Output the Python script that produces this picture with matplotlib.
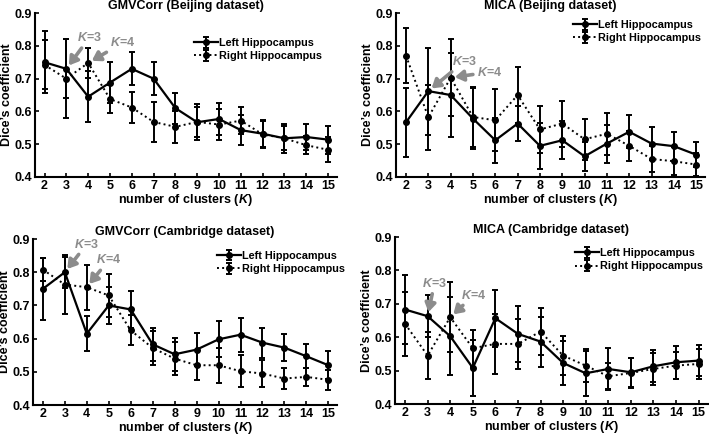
import numpy as np
import matplotlib.pyplot as plt

plt.rcParams['font.family'] = ['Liberation Sans', 'DejaVu Sans']
plt.rcParams['font.weight'] = 'bold'
plt.rcParams['mathtext.fontset'] = 'custom'
plt.rcParams['mathtext.it'] = 'Liberation Sans:bold:italic'
plt.rcParams['mathtext.rm'] = 'Liberation Sans:bold'

k = np.arange(2, 16)

titles = ["GMVCorr (Beijing dataset)", "MICA (Beijing dataset)",
          "GMVCorr (Cambridge dataset)", "MICA (Cambridge dataset)"]

# left hippocampus means / errors, one list per panel
left_mean = [
    [0.75, 0.73, 0.645, 0.688, 0.73, 0.70, 0.61, 0.567, 0.577, 0.543, 0.532, 0.518, 0.522, 0.514],
    [0.567, 0.662, 0.65, 0.578, 0.512, 0.563, 0.495, 0.512, 0.463, 0.502, 0.538, 0.502, 0.494, 0.468],
    [0.75, 0.80, 0.615, 0.70, 0.688, 0.583, 0.553, 0.567, 0.598, 0.612, 0.588, 0.573, 0.547, 0.52],
    [0.683, 0.663, 0.603, 0.508, 0.657, 0.61, 0.587, 0.523, 0.492, 0.505, 0.495, 0.513, 0.525, 0.53],
]
left_err = [
    [0.095, 0.09, 0.077, 0.062, 0.05, 0.05, 0.047, 0.055, 0.05, 0.045, 0.043, 0.045, 0.04, 0.043],
    [0.105, 0.133, 0.128, 0.094, 0.068, 0.053, 0.071, 0.058, 0.045, 0.058, 0.05, 0.049, 0.044, 0.039],
    [0.093, 0.047, 0.053, 0.056, 0.057, 0.049, 0.05, 0.05, 0.054, 0.051, 0.045, 0.04, 0.036, 0.042],
    [0.104, 0.063, 0.117, 0.083, 0.085, 0.085, 0.075, 0.067, 0.068, 0.062, 0.044, 0.048, 0.049, 0.046],
]
# right hippocampus means / errors
right_mean = [
    [0.742, 0.70, 0.748, 0.638, 0.612, 0.568, 0.553, 0.568, 0.56, 0.572, 0.53, 0.518, 0.497, 0.483],
    [0.77, 0.582, 0.703, 0.583, 0.573, 0.65, 0.545, 0.563, 0.515, 0.532, 0.495, 0.455, 0.448, 0.438],
    [0.808, 0.763, 0.755, 0.73, 0.625, 0.572, 0.54, 0.52, 0.52, 0.502, 0.495, 0.48, 0.485, 0.476],
    [0.64, 0.545, 0.66, 0.567, 0.58, 0.58, 0.617, 0.545, 0.515, 0.483, 0.493, 0.505, 0.515, 0.52],
]
right_err = [
    [0.075, 0.12, 0.047, 0.043, 0.047, 0.06, 0.048, 0.046, 0.048, 0.042, 0.04, 0.037, 0.028, 0.038],
    [0.084, 0.1, 0.118, 0.093, 0.095, 0.086, 0.072, 0.07, 0.063, 0.064, 0.045, 0.041, 0.042, 0.035],
    [0.035, 0.088, 0.068, 0.065, 0.045, 0.05, 0.05, 0.045, 0.053, 0.048, 0.04, 0.032, 0.027, 0.031],
    [0.096, 0.07, 0.105, 0.056, 0.09, 0.074, 0.071, 0.059, 0.049, 0.039, 0.044, 0.049, 0.04, 0.045],
]

# annotation text positions (x, y) for K=3 and K=4 in data units
k3_text = [(4.05, 0.825), (4.6, 0.752), (4.0, 0.885), (3.3, 0.762)]
k4_text = [(5.6, 0.81), (5.75, 0.72), (5.0, 0.837), (5.05, 0.726)]
k3_tip = ['left', 'left', 'left', 'left']
k4_tip = ['right', 'right', 'right', 'right']

# legend anchor (upper right corner) per panel, axes fraction
legend_anchor = [(0.965, 0.875), (1.0, 0.985), (1.04, 0.955), (1.0, 0.96)]

positions = [
    [0.049, 0.595, 0.426, 0.375],
    [0.5585, 0.595, 0.436, 0.375],
    [0.0465, 0.073, 0.429, 0.38],
    [0.557, 0.0755, 0.441, 0.382],
]

fig = plt.figure(figsize=(7.09, 4.37), dpi=100)

for i in range(4):
    ax = fig.add_axes(positions[i])
    ax.errorbar(k, left_mean[i], yerr=left_err[i], color='black', lw=1.6,
                marker='o', ms=4, capsize=2.5, elinewidth=1.4, capthick=1.4,
                label='Left Hippocampus')
    r = ax.errorbar(k, right_mean[i], yerr=right_err[i], color='black', lw=1.4,
                    ls=':', marker='o', ms=4, capsize=2.5, elinewidth=1.4, capthick=1.4,
                    label='Right Hippocampus')
    r[-1][0].set_linestyle('-')

    ax.set_xlim(1.55, 15.4)
    ax.set_ylim(0.4, 0.9)
    ax.set_xticks(k)
    ax.set_yticks([0.4, 0.5, 0.6, 0.7, 0.8, 0.9])
    ax.set_yticklabels(['0.4', '0.5', '0.6', '0.7', '0.8', '0.9'])
    ax.tick_params(direction='in', length=3, width=1.2, labelsize=9, pad=2)
    for sp in ['top', 'right']:
        ax.spines[sp].set_visible(False)
    for sp in ['left', 'bottom']:
        ax.spines[sp].set_linewidth(1.5)

    ax.set_title(titles[i], fontsize=9, fontweight='bold', pad=3)
    ax.set_xlabel('number of clusters ($K$)', fontsize=9, fontweight='bold', labelpad=0)
    ax.set_ylabel('Dice\u2019s coefficient', fontsize=9, fontweight='bold', labelpad=1)

    ax.legend(frameon=False, fontsize=7.8, loc='upper right',
              bbox_to_anchor=legend_anchor[i], handlelength=2.2, handletextpad=0.1,
              labelspacing=0.3, borderaxespad=0.0)

    y3 = left_mean[i][1] if k3_tip[i] == 'left' else right_mean[i][1]
    y4 = left_mean[i][2] if k4_tip[i] == 'left' else right_mean[i][2]
    arrow = dict(arrowstyle='-|>,head_length=0.55,head_width=0.35', color='#8c8c8c',
                 lw=2.6, shrinkA=1, shrinkB=3)
    ax.annotate('$K$=3', xy=(3, y3), xytext=k3_text[i], color='#8c8c8c',
                fontsize=9, fontweight='bold', ha='center', va='center',
                arrowprops=arrow)
    ax.annotate('$K$=4', xy=(4, y4), xytext=k4_text[i], color='#8c8c8c',
                fontsize=9, fontweight='bold', ha='center', va='center',
                arrowprops=arrow)

fig.savefig('out.png', dpi=100)
